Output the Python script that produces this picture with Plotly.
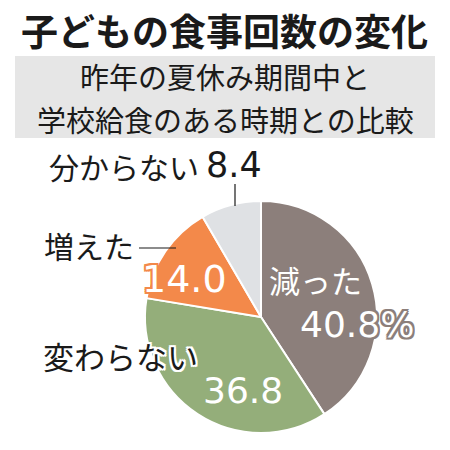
import plotly.graph_objects as go

title = "子どもの食事回数の変化"
subtitle_lines = ["昨年の夏休み期間中と", "学校給食のある時期との比較"]
categories = ["減った", "変わらない", "増えた", "分からない"]
values = [40.8, 36.8, 14.0, 8.4]
colors = ["#8c7f7b", "#94ae7a", "#f3894a", "#dfe1e4"]

W = H = 450
FONT = "Noto Sans CJK JP"
NUMFONT = "DejaVu Sans"


def px(x):
    return x / W


def py(y):
    return 1 - y / H


def outline(c, w=2):
    parts = []
    for dx in (-w, 0, w):
        for dy in (-w, 0, w):
            if dx or dy:
                parts.append(f"{dx}px {dy}px 0 {c}")
    return ", ".join(parts)


fig = go.Figure(go.Pie(
    labels=categories,
    values=values,
    sort=False,
    direction="clockwise",
    rotation=0,
    marker=dict(colors=colors, line=dict(color="white", width=2)),
    textinfo="none",
    hoverinfo="label+value",
    showlegend=False,
    domain=dict(x=[px(145), px(377)], y=[py(433), py(201)]),
))

ann = []
ann.append(dict(x=px(224), y=py(30), text=f"<b>{title}</b>",
                font=dict(family=FONT, size=37, color="#1a1a1a")))
ann.append(dict(x=px(225), y=py(76), text=subtitle_lines[0],
                font=dict(family=FONT, size=29, color="#1a1a1a")))
ann.append(dict(x=px(225), y=py(119), text=subtitle_lines[1],
                font=dict(family=FONT, size=29, color="#1a1a1a")))

# 分からない
ann.append(dict(x=px(201), y=py(166), xanchor="right", text=categories[3],
                font=dict(family=FONT, size=30, color="#1a1a1a")))
ann.append(dict(x=px(204), y=py(165), xanchor="left", text=f"{values[3]:.1f}",
                font=dict(family=NUMFONT, size=35, color="#1a1a1a")))
# 増えた
ann.append(dict(x=px(136), y=py(245), xanchor="right", text=categories[2],
                font=dict(family=FONT, size=30, color="#1a1a1a")))
ann.append(dict(x=px(184), y=py(279), text=f"{values[2]:.1f}",
                font=dict(family=NUMFONT, size=38, color="white",
                          shadow=outline(colors[2]))))
# 減った
ann.append(dict(x=px(315), y=py(279), text=categories[0],
                font=dict(family=FONT, size=31, color="white",
                          shadow=outline(colors[0]))))
ann.append(dict(x=px(357), y=py(324), text=f"{values[0]:.1f}%",
                font=dict(family=NUMFONT, size=36, color="white",
                          shadow=outline(colors[0]))))
# 変わらない
ann.append(dict(x=px(200), y=py(355), xanchor="right", text=categories[1],
                font=dict(family=FONT, size=31, color="#1a1a1a",
                          shadow=outline("white"))))
ann.append(dict(x=px(243), y=py(390), text=f"{values[1]:.1f}",
                font=dict(family=NUMFONT, size=36, color="white",
                          shadow=outline(colors[1]))))

for a in ann:
    a.update(xref="paper", yref="paper", showarrow=False)
    a.setdefault("xanchor", "center")
    a.setdefault("yanchor", "middle")

shapes = [
    dict(type="rect", xref="paper", yref="paper",
         x0=px(15), x1=px(435), y0=py(138), y1=py(56),
         fillcolor="#e6e6e6", line=dict(width=0), layer="below"),
    dict(type="line", xref="paper", yref="paper",
         x0=px(235), x1=px(235), y0=py(184), y1=py(206),
         line=dict(color="#1a1a1a", width=1.2)),
    dict(type="line", xref="paper", yref="paper",
         x0=px(139), x1=px(176), y0=py(248), y1=py(248),
         line=dict(color="#1a1a1a", width=1.2)),
]

fig.update_layout(
    width=W, height=H,
    margin=dict(l=0, r=0, t=0, b=0),
    paper_bgcolor="white", plot_bgcolor="white",
    annotations=ann, shapes=shapes,
)

fig.write_html("out.html")
